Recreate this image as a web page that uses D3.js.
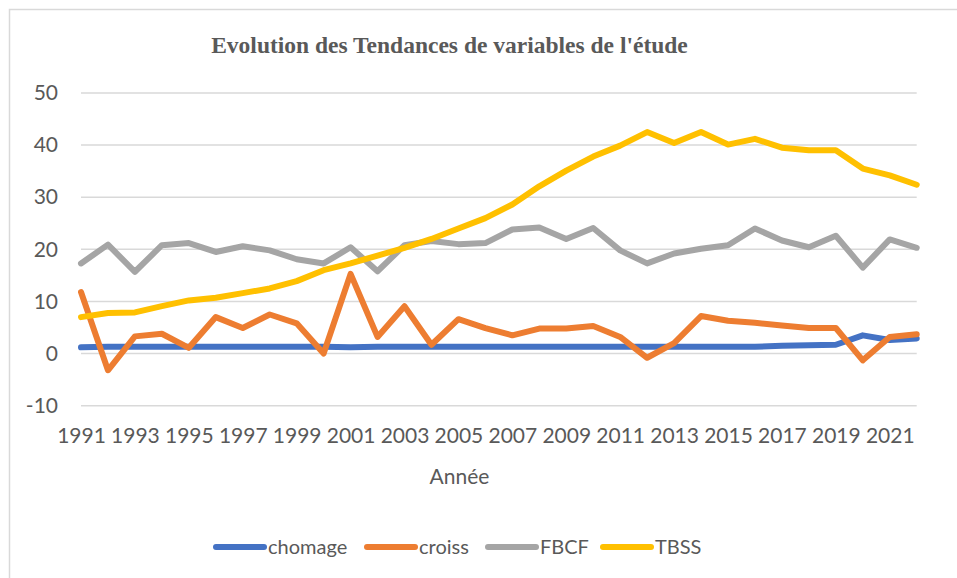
<!DOCTYPE html>
<html>
<head>
<meta charset="utf-8">
<script src="https://cdn.jsdelivr.net/npm/d3@7"></script>
<style>
  body { margin: 0; background: #fff; }
</style>
</head>
<body>
<div id="chart"></div>
<script>
const years = d3.range(1991, 2023);
const yTicks = [-10, 0, 10, 20, 30, 40, 50];
const xTicks = [1991, 1993, 1995, 1997, 1999, 2001, 2003, 2005, 2007, 2009, 2011,
                2013, 2015, 2017, 2019, 2021];

const chomage = [1.2, 1.3, 1.3, 1.3, 1.3, 1.3, 1.3, 1.3, 1.3, 1.3, 1.2, 1.3, 1.3, 1.3, 1.3, 1.3,
                 1.3, 1.3, 1.3, 1.3, 1.3, 1.3, 1.3, 1.3, 1.3, 1.3, 1.5, 1.6, 1.7, 3.5, 2.6, 2.9];
const croiss = [11.8, -3.2, 3.3, 3.8, 1.1, 7.0, 4.9, 7.5, 5.8, 0.0, 15.3, 3.2, 9.1, 1.7, 6.6, 4.9,
                3.5, 4.8, 4.8, 5.3, 3.2, -0.8, 2.0, 7.2, 6.3, 5.9, 5.4, 4.9, 4.9, -1.3, 3.2, 3.7];
const fbcf = [17.3, 20.9, 15.7, 20.8, 21.2, 19.5, 20.6, 19.8, 18.1, 17.3, 20.4, 15.8, 20.8, 21.6, 21.0, 21.2,
              23.8, 24.2, 22.0, 24.1, 19.8, 17.3, 19.2, 20.1, 20.8, 24.0, 21.7, 20.4, 22.6, 16.5, 21.9, 20.3];
const tbss = [7.0, 7.8, 7.9, 9.1, 10.2, 10.7, 11.6, 12.5, 13.9, 16.0, 17.3, 18.8, 20.3, 22.0, 24.0, 26.0,
              28.6, 32.1, 35.1, 37.8, 39.9, 42.5, 40.4, 42.5, 40.1, 41.2, 39.5, 39.0, 39.0, 35.5, 34.2, 32.4];

const seriesNames = ["chomage", "croiss", "FBCF", "TBSS"];
const seriesValues = [chomage, croiss, fbcf, tbss];
const colors = ["#4472C4", "#ED7D31", "#A5A5A5", "#FFC000"];

const W = 957, H = 578;
const font = "Lato, 'Noto Sans', sans-serif";
const textColor = "#595959";

const svg = d3.select("#chart")
  .append("svg")
  .attr("width", W)
  .attr("height", H)
  .style("font-family", font);

// chart frame (runs off the right and bottom edge)
svg.append("rect")
  .attr("x", 9.5)
  .attr("y", 9.5)
  .attr("width", W + 10)
  .attr("height", H + 10)
  .attr("fill", "#fff")
  .attr("stroke", "#d9d9d9")
  .attr("stroke-width", 1.5);

const x = d3.scaleLinear()
  .domain([1991, 2022])
  .range([81, 916.7]);

const y = d3.scaleLinear()
  .domain([-10, 50])
  .range([405.7, 93]);

// gridlines
svg.append("g")
  .selectAll("line")
  .data(yTicks)
  .join("line")
  .attr("x1", x(1991))
  .attr("x2", x(2022))
  .attr("y1", d => y(d))
  .attr("y2", d => y(d))
  .attr("stroke", "#d9d9d9")
  .attr("stroke-width", 1.5);

// y axis labels
const yAxis = svg.append("g")
  .attr("transform", "translate(58,0)")
  .call(d3.axisLeft(y).tickValues(yTicks).tickFormat(d => String(d)).tickSize(0).tickPadding(0));
yAxis.select(".domain").remove();
yAxis.selectAll("text")
  .attr("fill", textColor)
  .style("font-size", "21px")
  .style("font-family", font);

// x axis labels
const xAxis = svg.append("g")
  .attr("transform", "translate(0,428)")
  .call(d3.axisBottom(x).tickValues(xTicks).tickFormat(d => String(d)).tickSize(0).tickPadding(0));
xAxis.select(".domain").remove();
xAxis.selectAll("text")
  .attr("fill", textColor)
  .style("font-size", "21px")
  .style("font-family", font);

svg.append("text")
  .attr("x", 459.5)
  .attr("y", 484)
  .attr("text-anchor", "middle")
  .attr("fill", textColor)
  .style("font-size", "21px")
  .text("Année");

svg.append("text")
  .attr("x", 449.5)
  .attr("y", 53)
  .attr("text-anchor", "middle")
  .attr("fill", textColor)
  .style("font-family", "'Liberation Serif', 'Times New Roman', serif")
  .style("font-size", "23.5px")
  .style("font-weight", "bold")
  .text("Evolution des Tendances de variables de l'étude");

const line = d3.line()
  .x((d, i) => x(years[i]))
  .y(d => y(d));

seriesValues.forEach((vals, k) => {
  svg.append("path")
    .datum(vals)
    .attr("fill", "none")
    .attr("stroke", colors[k])
    .attr("stroke-width", 6)
    .attr("stroke-linejoin", "round")
    .attr("stroke-linecap", "round")
    .attr("d", line);
});

// legend
const legendX = [216, 367, 488, 603];
const legend = svg.append("g");
seriesNames.forEach((name, k) => {
  const row = legend.append("g")
    .attr("transform", `translate(${legendX[k]}, 547)`);
  row.append("line")
    .attr("x1", 0)
    .attr("x2", 48)
    .attr("stroke", colors[k])
    .attr("stroke-width", 6)
    .attr("stroke-linecap", "round");
  row.append("text")
    .attr("x", 52)
    .attr("y", 7)
    .attr("fill", textColor)
    .style("font-size", "20px")
    .text(name);
});
</script>
</body>
</html>
